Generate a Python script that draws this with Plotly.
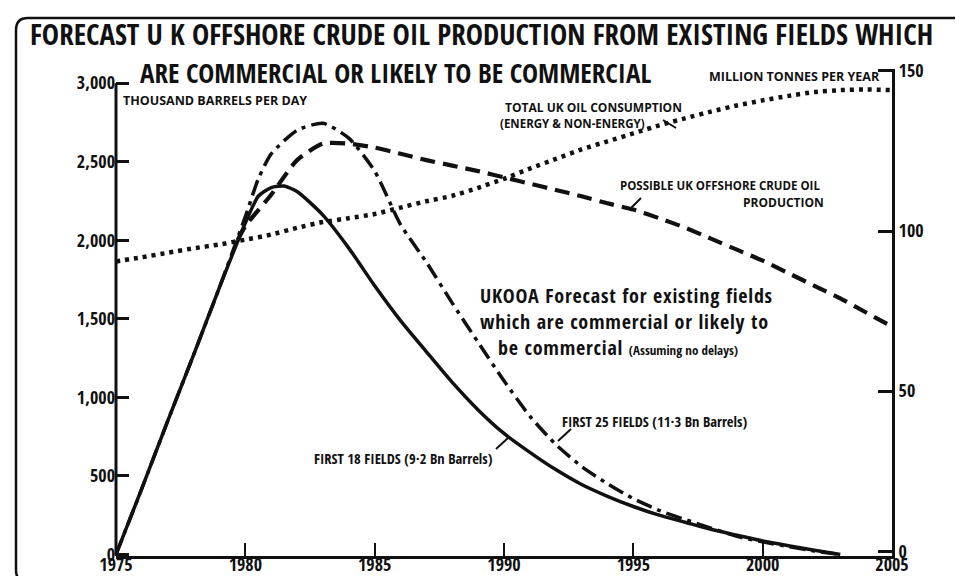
import plotly.graph_objects as go

# ---------------- data ----------------
years_18 = [1975, 1976, 1977, 1978, 1979, 1980, 1980.5, 1981, 1981.5, 1982, 1983, 1984, 1985,
            1986, 1987, 1988, 1989, 1990, 1991, 1992, 1993, 1994, 1995, 1996, 1997, 1998,
            1999, 2000, 2001, 2002, 2003]
first18 = [0, 420, 850, 1270, 1700, 2110, 2280, 2335, 2345, 2310, 2160, 1950, 1710,
           1488, 1290, 1095, 920, 770, 650, 540, 445, 370, 305, 250, 205, 160,
           122, 85, 55, 27, 0]

years_25 = [1975, 1976, 1977, 1978, 1979, 1980, 1980.5, 1981, 1982, 1983, 1984, 1985,
            1986, 1987, 1988, 1989, 1990, 1991, 1992, 1993, 1994, 1995, 1996, 1997, 1998,
            1999, 2000, 2001, 2002, 2003]
first25 = [0, 420, 850, 1270, 1700, 2150, 2390, 2550, 2700, 2745, 2650, 2440,
           2100, 1860, 1600, 1350, 1105, 880, 700, 560, 450, 355, 280, 222, 168,
           115, 80, 50, 22, 0]

years_poss = [1979.7, 1980, 1981, 1982, 1983, 1984, 1985, 1986, 1987, 1988, 1989, 1990,
              1991, 1992, 1993, 1994, 1995, 1996, 1997, 1998, 1999, 2000, 2001, 2002,
              2003, 2004, 2005]
possible = [2000, 2090, 2290, 2510, 2615, 2615, 2590, 2550, 2510, 2475, 2440, 2400,
            2360, 2320, 2280, 2235, 2195, 2140, 2080, 2010, 1940, 1870, 1790, 1710,
            1630, 1540, 1450]

years_cons = list(range(1975, 2006))
consumption = [90.5, 91.8, 93.2, 94.6, 95.8, 97.3, 98.9, 101.0, 102.8, 104.0, 105.3,
               107.3, 109.3, 111.0, 113.5, 116.3, 119.5, 122.5, 125.5, 128.0, 130.5,
               133.0, 135.2, 137.3, 139.2, 140.8, 142.2, 143.4, 144.0, 144.2, 144.0]

left_tickvals = [0, 500, 1000, 1500, 2000, 2500, 3000]
left_ticktext = ["0", "500", "1,000", "1,500", "2,000", "2,500", "3,000"]
right_tickvals = [0, 50, 100, 150]
right_ticktext = ["0", "50", "100", "150"]
x_tickvals = [1975, 1980, 1985, 1990, 1995, 2000, 2005]
x_ticktext = ["1975", "1980", "1985", "1990", "1995", "2000", "2005"]

# ---------------- layout helpers ----------------
W, H = 963, 576
L, R, T, B = 108, 884, 61, 548
def px(x):
    return (x - L) / (R - L)
def py(y):
    return (B - y) / (B - T)

BLK = "#111111"
FAMC = "Open Sans Condensed, Open Sans, sans-serif"   # condensed bold
FAMN = "Open Sans, sans-serif"                        # normal-width bold
def cond(t):
    return f"<span style='font-stretch:condensed'>{t}</span>"

fig = go.Figure()
fig.add_trace(go.Scatter(x=years_cons, y=consumption, yaxis="y2", mode="lines",
                         line=dict(color=BLK, width=4.5, dash="4px,5px", shape="spline", smoothing=0.6),
                         name="Total UK oil consumption"))
fig.add_trace(go.Scatter(x=years_poss, y=possible, mode="lines",
                         line=dict(color=BLK, width=4.2, dash="15px,8px", shape="spline", smoothing=0.6),
                         name="Possible UK offshore crude oil production"))
fig.add_trace(go.Scatter(x=years_25, y=first25, mode="lines",
                         line=dict(color=BLK, width=3.5, dash="16px,6px,4px,6px", shape="spline", smoothing=0.6),
                         name="First 25 fields"))
fig.add_trace(go.Scatter(x=years_18, y=first18, mode="lines",
                         line=dict(color=BLK, width=3.5, shape="spline", smoothing=0.6),
                         name="First 18 fields"))

tickfont = dict(family=FAMC, size=18, color=BLK, weight="bold")

fig.update_layout(
    width=W, height=H,
    margin=dict(l=L, r=W - R, t=T, b=H - B, autoexpand=False),
    paper_bgcolor="white", plot_bgcolor="white",
    showlegend=False,
    xaxis=dict(range=[1975, 2005], tickvals=x_tickvals, ticktext=[cond(t) for t in x_ticktext],
               ticks="inside", ticklen=13, automargin=False, ticklabelstandoff=-10,
               tickwidth=2, tickcolor=BLK, showline=True, linewidth=3, linecolor=BLK,
               showgrid=False, zeroline=False, tickfont=tickfont),
    yaxis=dict(range=[-10, 3090], tickvals=left_tickvals, ticktext=[cond(t) for t in left_ticktext],
               ticks="inside", ticklen=13, tickwidth=2.5, tickcolor=BLK, showline=False,
               automargin=False, showgrid=False, zeroline=False, tickfont=tickfont),
    yaxis2=dict(range=[-1.5, 150.6], tickvals=right_tickvals, ticktext=[cond(t) for t in right_ticktext],
                overlaying="y", side="right", automargin=False,
                ticks="inside", ticklen=14, tickwidth=2.5, tickcolor=BLK, showline=True,
                linewidth=3, linecolor=BLK, showgrid=False, zeroline=False, tickfont=tickfont),
)

shapes = [dict(type="line", xref="paper", yref="y", x0=0, x1=0, y0=-10, y1=3000,
               line=dict(color=BLK, width=3))]
frame = (f"M {px(963)},{py(10)} L {px(20)},{py(10)} Q {px(8)},{py(10)} {px(8)},{py(22)} "
         f"L {px(8)},{py(562)} Q {px(8)},{py(574)} {px(20)},{py(574)} L {px(963)},{py(574)}")
shapes.append(dict(type="path", xref="paper", yref="paper", path=frame,
                   line=dict(color=BLK, width=2.5)))
for (x0, y0, x1, y1) in [(655, 112, 668, 120), (633, 190, 622, 201),
                         (550, 433, 563, 421), (488, 441, 500, 430)]:
    shapes.append(dict(type="line", xref="paper", yref="paper", x0=px(x0), y0=py(y0),
                       x1=px(x1), y1=py(y1), line=dict(color=BLK, width=2)))
fig.update_layout(shapes=shapes)

def label(text, x, y, size, family=FAMC, xanchor="left", yanchor="middle", align="left"):
    t = cond(text) if family == FAMC else text
    fig.add_annotation(text=t, xref="paper", yref="paper", x=px(x), y=py(y),
                       xanchor=xanchor, yanchor=yanchor, showarrow=False, align=align,
                       font=dict(family=family, size=size, color=BLK, weight="bold"))

label("FORECAST U K OFFSHORE CRUDE OIL PRODUCTION FROM EXISTING FIELDS WHICH", 473, 26, 29, xanchor="center")
label("ARE COMMERCIAL OR LIKELY TO BE COMMERCIAL", 130, 64, 27)
label("THOUSAND BARRELS PER DAY", 113, 92, 12.5, FAMN)
label("MILLION TONNES PER YEAR", 874, 68, 12.5, FAMN, xanchor="right")
label("TOTAL UK OIL CONSUMPTION", 495, 99, 12, FAMN)
label("(ENERGY &amp; NON-ENERGY)", 490, 116, 11.5, FAMN)
label("POSSIBLE UK OFFSHORE CRUDE OIL", 610, 177, 11.5, FAMN)
label("PRODUCTION", 818, 195, 12, FAMN, xanchor="right")
label("<span style='letter-spacing:0.8px'>UKOOA Forecast for existing fields<br>"
      "which are commercial or likely to<br>"
      "&nbsp;&nbsp;&nbsp;be commercial <span style='font-size:13px;letter-spacing:0px'>(Assuming no delays)</span></span>",
      470, 313, 20)
label("FIRST 25 FIELDS (11·3 Bn Barrels)", 552, 413, 14.5)
label("FIRST 18 FIELDS (9·2 Bn Barrels)", 304, 450, 14.5)

fig.write_html("out.html")
